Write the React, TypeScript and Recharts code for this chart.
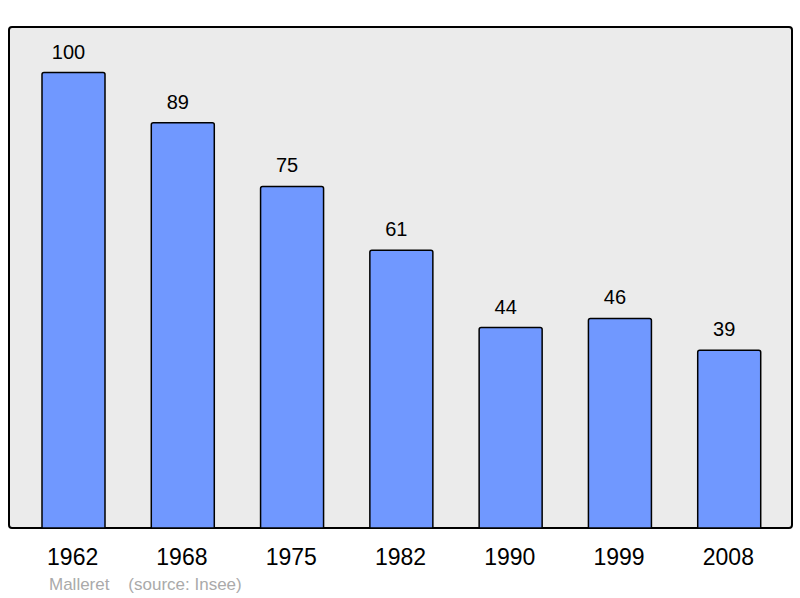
import { Bar, BarChart, LabelList, XAxis, YAxis } from 'recharts'

const years = ['1962', '1968', '1975', '1982', '1990', '1999', '2008']
const population = [100, 89, 75, 61, 44, 46, 39]

const rows = years.map((year, i) => ({ year, value: population[i] }))

export default function App() {
  return (
    <div
      style={{
        position: 'absolute',
        left: 0,
        top: 0,
        width: 800,
        height: 598,
        background: '#fff',
        fontFamily: '"Liberation Sans", Arial, sans-serif',
      }}
    >
      {/* plot frame */}
      <div
        style={{
          position: 'absolute',
          left: 8,
          top: 26,
          width: 781,
          height: 499,
          border: '2px solid #000',
          borderRadius: 4,
          background: '#ebebeb',
        }}
      />
      <div style={{ position: 'absolute', left: 0, top: 0 }}>
        <BarChart
          width={800}
          height={598}
          data={rows}
          margin={{ top: 27, left: 9, right: 8, bottom: 40 }}
          barCategoryGap={0}
        >
          <XAxis
            dataKey="year"
            height={30}
            axisLine={false}
            tickLine={false}
            tickMargin={15}
            padding={{ left: 10, right: 8 }}
            tick={{ fontSize: 23, fill: '#000', dx: -1 }}
            interval={0}
          />
          <YAxis hide domain={[0, 110]} />
          <Bar
            dataKey="value"
            barSize={63}
            fill="#7098ff"
            stroke="#000"
            strokeWidth={1.5}
            radius={[2, 2, 0, 0]}
            isAnimationActive={false}
          >
            <LabelList
              dataKey="value"
              position="top"
              offset={14}
              dx={-5}
              style={{ fontSize: 20, fill: '#000' }}
            />
          </Bar>
        </BarChart>
      </div>
      <div
        style={{
          position: 'absolute',
          left: 49,
          top: 575,
          fontSize: 17,
          color: '#aaaaaa',
          whiteSpace: 'pre',
        }}
      >
        {'Malleret    (source: Insee)'}
      </div>
    </div>
  )
}
